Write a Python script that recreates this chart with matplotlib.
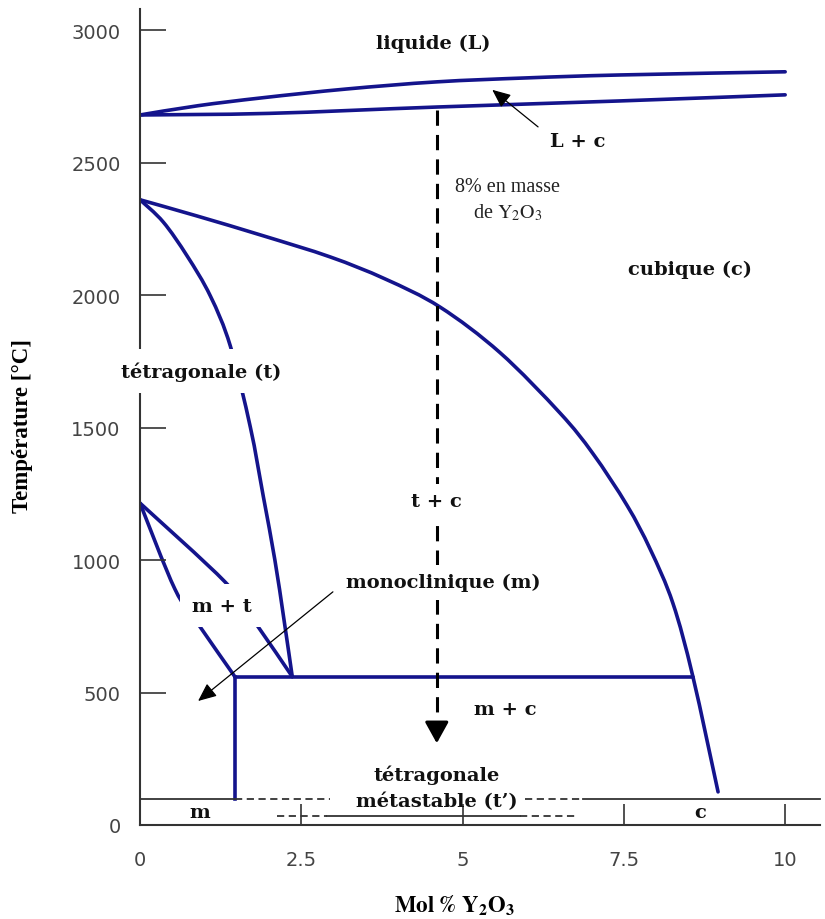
import matplotlib
matplotlib.use("Agg")
import matplotlib.pyplot as plt
from matplotlib.path import Path
from matplotlib.patches import PathPatch

plt.rcParams["mathtext.fontset"] = "stix"

# phase boundaries, ZrO2 - Y2O3 (x in mol % Y2O3, T in degC)
liquidus_x = [0, 0.9, 1.9, 3.2, 4.6, 6.0, 7.44, 10.0]
liquidus_T = [2680, 2715, 2745, 2778, 2805, 2820, 2831, 2843]
solidus_x = [0, 2.0, 4.6, 7.44, 10.0]
solidus_T = [2680, 2686, 2710, 2733, 2756]

cubic_x = [0, 0.88, 1.91, 2.95, 3.80, 4.65, 5.58, 6.51, 7.02, 7.55, 7.91, 8.26, 8.57, 8.96]
cubic_T = [2360, 2299, 2224, 2144, 2061, 1955, 1783, 1555, 1402, 1206, 1040, 837, 560, 125]

tetra_x = [0, 0.36, 0.73, 1.09, 1.40, 1.71, 1.91, 2.09, 2.23, 2.36]
tetra_T = [2360, 2276, 2148, 1997, 1808, 1502, 1242, 1001, 778, 560]

mono_left_x = [0, 0.54, 0.90, 1.47]
mono_left_T = [1215, 891, 759, 560]
mono_right_x = [0, 1.32, 1.78, 2.36]
mono_right_T = [1215, 917, 766, 560]

eutectoid_T = 560
eutectoid_x = [1.47, 8.57]
mono_limit_x = 1.47

# 8 wt% composition path
path_x = 4.6
path_T = [2700, 298]

# lower strip: metastable t' band
strip_T = 98
strip_solid = [(0, 1.47), (6.87, 10.54)]
strip_dashed = [(1.47, 2.95), (5.97, 6.87)]
band_T = 34
band_solid = [(2.9, 5.89)]
band_dashed = [(2.12, 2.9), (5.89, 6.79)]

xticks = [0, 2.5, 5, 7.5, 10]
xtick_labels = ["0", "2.5", "5", "7.5", "10"]
yticks = [0, 500, 1000, 1500, 2000, 2500, 3000]

BLUE = "#14148c"
INK = "#333333"


def smooth_path(xs, ys):
    """Catmull-Rom curve through the given points, as cubic Bezier segments."""
    pts = list(zip(xs, ys))
    verts, codes = [pts[0]], [Path.MOVETO]
    n = len(pts)
    for i in range(n - 1):
        p0 = pts[i - 1] if i > 0 else pts[i]
        p1, p2 = pts[i], pts[i + 1]
        p3 = pts[i + 2] if i + 2 < n else pts[i + 1]
        c1 = (p1[0] + (p2[0] - p0[0]) / 6, p1[1] + (p2[1] - p0[1]) / 6)
        c2 = (p2[0] - (p3[0] - p1[0]) / 6, p2[1] - (p3[1] - p1[1]) / 6)
        verts += [c1, c2, p2]
        codes += [Path.CURVE4] * 3
    return Path(verts, codes)


def boundary(ax, xs, ys):
    ax.add_patch(PathPatch(smooth_path(xs, ys), fill=False, edgecolor=BLUE, lw=2.6,
                           capstyle="round", joinstyle="round"))


fig = plt.figure(figsize=(8.25, 9.2), dpi=100)
ax = fig.add_axes([140 / 825, 1 - 826 / 920, 680 / 825, 816 / 920])
ax.set_xlim(0, 10.54)
ax.set_ylim(0, 3080)

for side in ("top", "right"):
    ax.spines[side].set_visible(False)
for side in ("left", "bottom"):
    ax.spines[side].set_linewidth(1.5)
    ax.spines[side].set_color(INK)

ax.set_xticks(xticks, xtick_labels)
ax.set_yticks(yticks)
ax.tick_params(axis="y", direction="in", length=18.5, width=1.2, color=INK,
               pad=14, labelsize=14, labelcolor="#444444")
ax.tick_params(axis="x", direction="in", length=15, width=1.2, color=INK,
               pad=18, labelsize=14, labelcolor="#444444")

boundary(ax, liquidus_x, liquidus_T)
boundary(ax, solidus_x, solidus_T)
boundary(ax, cubic_x, cubic_T)
boundary(ax, tetra_x, tetra_T)
boundary(ax, mono_left_x, mono_left_T)
boundary(ax, mono_right_x, mono_right_T)
ax.plot(eutectoid_x, [eutectoid_T, eutectoid_T], color=BLUE, lw=2.6, solid_capstyle="round")
ax.plot([mono_limit_x, mono_limit_x], [eutectoid_T, strip_T], color=BLUE, lw=2.6)

for x0, x1 in strip_solid:
    ax.plot([x0, x1], [strip_T, strip_T], color=INK, lw=1.3, clip_on=False)
for x0, x1 in strip_dashed:
    ax.plot([x0, x1], [strip_T, strip_T], color=INK, lw=1.3, ls=(0, (4, 2.5)))
for x0, x1 in band_solid:
    ax.plot([x0, x1], [band_T, band_T], color=INK, lw=1.3)
for x0, x1 in band_dashed:
    ax.plot([x0, x1], [band_T, band_T], color=INK, lw=1.3, ls=(0, (4, 2.5)))

# cooling path with arrow head
ax.plot([path_x, path_x], [path_T[0], path_T[1] + 60], color="black", lw=2.2, ls=(0, (5, 3)))
ax.annotate("", xy=(path_x, path_T[1]), xytext=(path_x, path_T[1] + 70),
            arrowprops=dict(arrowstyle="-|>,head_length=0.65,head_width=0.36",
                            mutation_scale=20, color="black", lw=2.2))

bold = dict(family="DejaVu Serif", fontweight="bold", fontsize=14, color="#111111",
            ha="center", va="center")

ax.text(4.54, 2952, "liquide (L)", **bold)
ax.text(6.79, 2582, "L + c", **bold)
ax.text(8.53, 2099, "cubique (c)", **bold)
ax.text(0.95, 1714, "tétragonale (t)", bbox=dict(facecolor="white", edgecolor="none", pad=9),
        clip_on=False, zorder=5, **bold)
ax.text(path_x, 1223, "t + c", bbox=dict(facecolor="white", edgecolor="none", pad=6), zorder=5, **bold)
ax.text(4.7, 917, "monoclinique (m)", bbox=dict(facecolor="white", edgecolor="none", pad=6),
        zorder=5, **bold)
ax.text(1.27, 827, "m + t", bbox=dict(facecolor="white", edgecolor="none", pad=9), zorder=5, **bold)
ax.text(5.66, 438, "m + c", **bold)
ax.text(path_x, 190, "tétragonale", **bold)
ax.text(path_x, 91, "métastable (t’)", **bold)
ax.text(0.93, 49, "m", **bold)
ax.text(8.68, 49, "c", **bold)

ax.text(5.7, 2359, "8% en masse\nde $\\mathrm{Y_2O_3}$", family="Liberation Serif",
        fontsize=14.5, color="#222222", ha="center", va="center", linespacing=1.35)

thin = dict(arrowstyle="-|>,head_length=0.8,head_width=0.35", mutation_scale=14,
            color="black", lw=0.9, shrinkA=0, shrinkB=0)
ax.annotate("", xy=(5.46, 2775), xytext=(6.17, 2635), arrowprops=thin)
ax.annotate("", xy=(0.90, 468), xytext=(2.99, 880), arrowprops=thin)

ax.set_ylabel("Température [°C]", family="Liberation Serif", fontweight="bold", fontsize=16.5)
ax.yaxis.set_label_coords(-0.158, 0.49)
ax.set_xlabel("$\\mathbf{Mol\\ \\%\\ Y_2O_3}$", fontsize=16.5)
ax.xaxis.set_label_coords(0.463, -0.083)

fig.savefig("out.png", dpi=100)
